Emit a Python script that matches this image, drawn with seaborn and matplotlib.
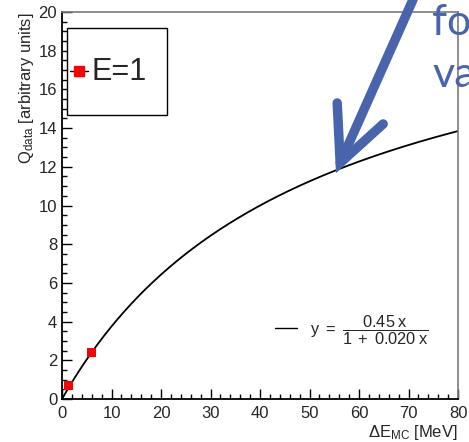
import numpy as np
import pandas as pd
import matplotlib
matplotlib.use("Agg")
import matplotlib.pyplot as plt
import seaborn as sns
from matplotlib.lines import Line2D
from matplotlib.patches import Rectangle
from matplotlib.ticker import MultipleLocator
from matplotlib.transforms import IdentityTransform

# Measured points (energy deposit in MC vs. charge in data)
energy_mc = [1.3, 6.0]
charge_data = [0.7, 2.4]
series_label = "E=1"

# Saturation fit y = a x / (1 + b x)
fit_a = 0.45
fit_b = 0.020

x_ticks = [0, 10, 20, 30, 40, 50, 60, 70, 80]
y_ticks = [0, 2, 4, 6, 8, 10, 12, 14, 16, 18, 20]

# Point on the curve the callout arrow points at
arrow_target = (56.2, 12.2)
callout_lines = ["fo", "va"]

sns.set_theme(style="ticks")
plt.rcParams["font.family"] = ["Liberation Sans", "DejaVu Sans"]
plt.rcParams["mathtext.fontset"] = "custom"
plt.rcParams["mathtext.rm"] = "Liberation Sans"
plt.rcParams["mathtext.it"] = "Liberation Sans:italic"
plt.rcParams["mathtext.default"] = "regular"

W, H = 469, 442
fig = plt.figure(figsize=(W / 100, H / 100), dpi=100)
fig.patch.set_facecolor("white")


def fx(px):
    return px / W


def fy(py_top):
    return 1 - py_top / H


ax = fig.add_axes([fx(62), fy(399), fx(458 - 62), (399 - 12) / H])

# Fit curve
xs = np.linspace(0, x_ticks[-1], 400)
curve = pd.DataFrame({"x": xs, "y": fit_a * xs / (1 + fit_b * xs)})
sns.lineplot(data=curve, x="x", y="y", color="black", linewidth=1.3, ax=ax)

# Data points
pts = pd.DataFrame({"x": energy_mc, "y": charge_data})
sns.scatterplot(data=pts, x="x", y="y", marker="s", s=44, color="red",
                edgecolor="none", ax=ax, zorder=3, clip_on=False)

ax.set_xlim(x_ticks[0], x_ticks[-1])
ax.set_ylim(y_ticks[0], y_ticks[-1])
ax.set_xticks(x_ticks)
ax.set_yticks(y_ticks)
ax.xaxis.set_minor_locator(MultipleLocator(2))
ax.yaxis.set_minor_locator(MultipleLocator(0.5))
ax.tick_params(axis="both", which="major", direction="in", length=7.5,
               width=1.0, color="black", labelsize=12)
ax.tick_params(axis="both", which="minor", direction="in", length=3.8,
               width=1.0, color="black")
ax.tick_params(axis="x", which="both", pad=5, top=False)
ax.tick_params(axis="y", which="both", pad=3.5, right=False)

for side in ("left", "bottom"):
    ax.spines[side].set_color("black")
    ax.spines[side].set_linewidth(1.3)
for side in ("top", "right"):
    ax.spines[side].set_visible(True)
    ax.spines[side].set_color("#7a7a7a")
    ax.spines[side].set_linewidth(1.2)

ax.set_xlabel("ΔE$_{MC}$ [MeV]", fontsize=12, loc="right")
ax.set_ylabel("Q$_{data}$ [arbitrary units]", fontsize=12, loc="top")
ax.xaxis.set_label_coords(1.0, -0.063)
ax.yaxis.set_label_coords(-0.065, 1.0)

# Legend box for the points
fig.add_artist(Rectangle((fx(67), fy(115)), fx(167 - 67), (115 - 28) / H,
                         transform=fig.transFigure, facecolor="white",
                         edgecolor="black", linewidth=1.0, zorder=5))
fig.add_artist(Line2D([fx(70), fx(88)], [fy(71), fy(71)], color="black",
                      linewidth=1.0, transform=fig.transFigure, zorder=6))
fig.add_artist(Line2D([fx(79)], [fy(71)], marker="s", markersize=6.6,
                      color="red", linestyle="none",
                      transform=fig.transFigure, zorder=7))
fig.text(fx(91), fy(72), series_label, fontsize=22, va="center", ha="left",
         zorder=7)

# Fit function legend
fig.add_artist(Line2D([fx(275), fx(297)], [fy(328), fy(328)], color="black",
                      linewidth=1.0, transform=fig.transFigure))
fig.text(fx(310), fy(330),
         r"$y\ =\ \dfrac{0.45\;x}{1\;+\;0.020\;x}$",
         fontsize=11.8, va="center", ha="left")

# Callout arrow pointing at the curve
fig.canvas.draw()
tip_x, tip_y = ax.transData.transform(arrow_target)
blue = "#4864ad"
ident = IdentityTransform()
shaft = Line2D([tip_x, tip_x + 78], [tip_y, tip_y + 175], color=blue,
               linewidth=6.8, solid_capstyle="round", transform=ident,
               zorder=8)
head = Line2D([tip_x - 3, tip_x, tip_x + 43], [tip_y + 60, tip_y, tip_y + 39],
              color=blue, linewidth=6.8, solid_capstyle="round",
              solid_joinstyle="miter", transform=ident, zorder=8)
fig.add_artist(shaft)
fig.add_artist(head)

for i, line in enumerate(callout_lines):
    fig.text(fx(432), fy(35 + 52 * i), line, fontsize=31, family=["Lato"],
             color=blue, va="baseline", ha="left", zorder=4)

fig.savefig("out.png", dpi=100)
